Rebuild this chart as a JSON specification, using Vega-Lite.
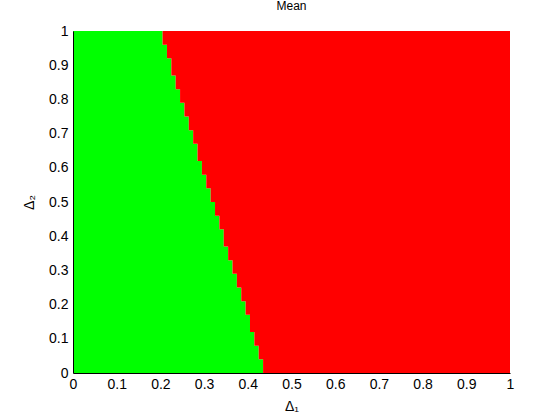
{
  "$schema": "https://vega.github.io/schema/vega-lite/v6.json",
  "autosize": {"type": "none"},
  "width": 437,
  "height": 342,
  "padding": {"left": 73, "top": 31, "right": 50, "bottom": 47},
  "background": "white",
  "title": {"text": "Mean", "fontSize": 12, "fontWeight": "normal", "font": "Liberation Sans", "color": "black", "offset": 11, "anchor": "middle"},
  "config": {"view": {"stroke": null}},
  "data": {"values": [
    {"y": 0.00, "b": 0.44},
    {"y": 0.04, "b": 0.43},
    {"y": 0.08, "b": 0.42},
    {"y": 0.12, "b": 0.41},
    {"y": 0.17, "b": 0.40},
    {"y": 0.21, "b": 0.39},
    {"y": 0.25, "b": 0.38},
    {"y": 0.29, "b": 0.37},
    {"y": 0.33, "b": 0.36},
    {"y": 0.37, "b": 0.35},
    {"y": 0.42, "b": 0.34},
    {"y": 0.46, "b": 0.33},
    {"y": 0.50, "b": 0.32},
    {"y": 0.54, "b": 0.31},
    {"y": 0.58, "b": 0.30},
    {"y": 0.62, "b": 0.29},
    {"y": 0.67, "b": 0.28},
    {"y": 0.71, "b": 0.27},
    {"y": 0.75, "b": 0.26},
    {"y": 0.79, "b": 0.25},
    {"y": 0.83, "b": 0.24},
    {"y": 0.87, "b": 0.23},
    {"y": 0.92, "b": 0.22},
    {"y": 0.96, "b": 0.21},
    {"y": 1.00, "b": 0.20}
  ]},
  "layer": [
    {
      "mark": {"type": "area", "orient": "horizontal", "interpolate": "step", "color": "#00ff00", "opacity": 1},
      "encoding": {
        "y": {"field": "y", "type": "quantitative", "scale": {"domain": [0, 1], "nice": false},
              "axis": {"title": "Δ₂", "values": [0,0.1,0.2,0.3,0.4,0.5,0.6,0.7,0.8,0.9,1], "format": "~g",
                       "labelPadding": 5, "titlePadding": 12, "labelOverlap": false, "labelFlush": false,
                       "labelFont": "Liberation Sans", "labelFontSize": 14, "labelColor": "black",
                       "titleFont": "Liberation Sans", "titleFontSize": 14, "titleFontWeight": "normal", "titleColor": "black",
                       "domainColor": "black", "tickColor": "black", "tickSize": 0, "grid": false, "zindex": 1}},
        "x": {"field": "b", "type": "quantitative", "scale": {"domain": [0, 1], "nice": false, "zero": true},
              "axis": {"title": "Δ₁", "values": [0,0.1,0.2,0.3,0.4,0.5,0.6,0.7,0.8,0.9,1], "format": "~g",
                       "labelPadding": 4, "titlePadding": 8, "labelOverlap": false, "labelFlush": false,
                       "labelFont": "Liberation Sans", "labelFontSize": 14, "labelColor": "black",
                       "titleFont": "Liberation Sans", "titleFontSize": 14, "titleFontWeight": "normal", "titleColor": "black",
                       "domainColor": "black", "tickColor": "black", "tickSize": 0, "grid": false, "zindex": 1}}
      }
    },
    {
      "mark": {"type": "area", "orient": "horizontal", "interpolate": "step", "color": "#ff0000", "opacity": 1},
      "encoding": {
        "y": {"field": "y", "type": "quantitative", "scale": {"domain": [0, 1], "nice": false},
              "axis": {"title": "Δ₂", "values": [0,0.1,0.2,0.3,0.4,0.5,0.6,0.7,0.8,0.9,1], "format": "~g",
                       "labelPadding": 5, "titlePadding": 12, "labelOverlap": false, "labelFlush": false,
                       "labelFont": "Liberation Sans", "labelFontSize": 14, "labelColor": "black",
                       "titleFont": "Liberation Sans", "titleFontSize": 14, "titleFontWeight": "normal", "titleColor": "black",
                       "domainColor": "black", "tickColor": "black", "tickSize": 0, "grid": false, "zindex": 1}},
        "x": {"field": "b", "type": "quantitative", "scale": {"domain": [0, 1], "nice": false, "zero": true},
              "axis": {"title": "Δ₁", "values": [0,0.1,0.2,0.3,0.4,0.5,0.6,0.7,0.8,0.9,1], "format": "~g",
                       "labelPadding": 4, "titlePadding": 8, "labelOverlap": false, "labelFlush": false,
                       "labelFont": "Liberation Sans", "labelFontSize": 14, "labelColor": "black",
                       "titleFont": "Liberation Sans", "titleFontSize": 14, "titleFontWeight": "normal", "titleColor": "black",
                       "domainColor": "black", "tickColor": "black", "tickSize": 0, "grid": false, "zindex": 1}},
        "x2": {"datum": 1}
      }
    }
  ]
}
